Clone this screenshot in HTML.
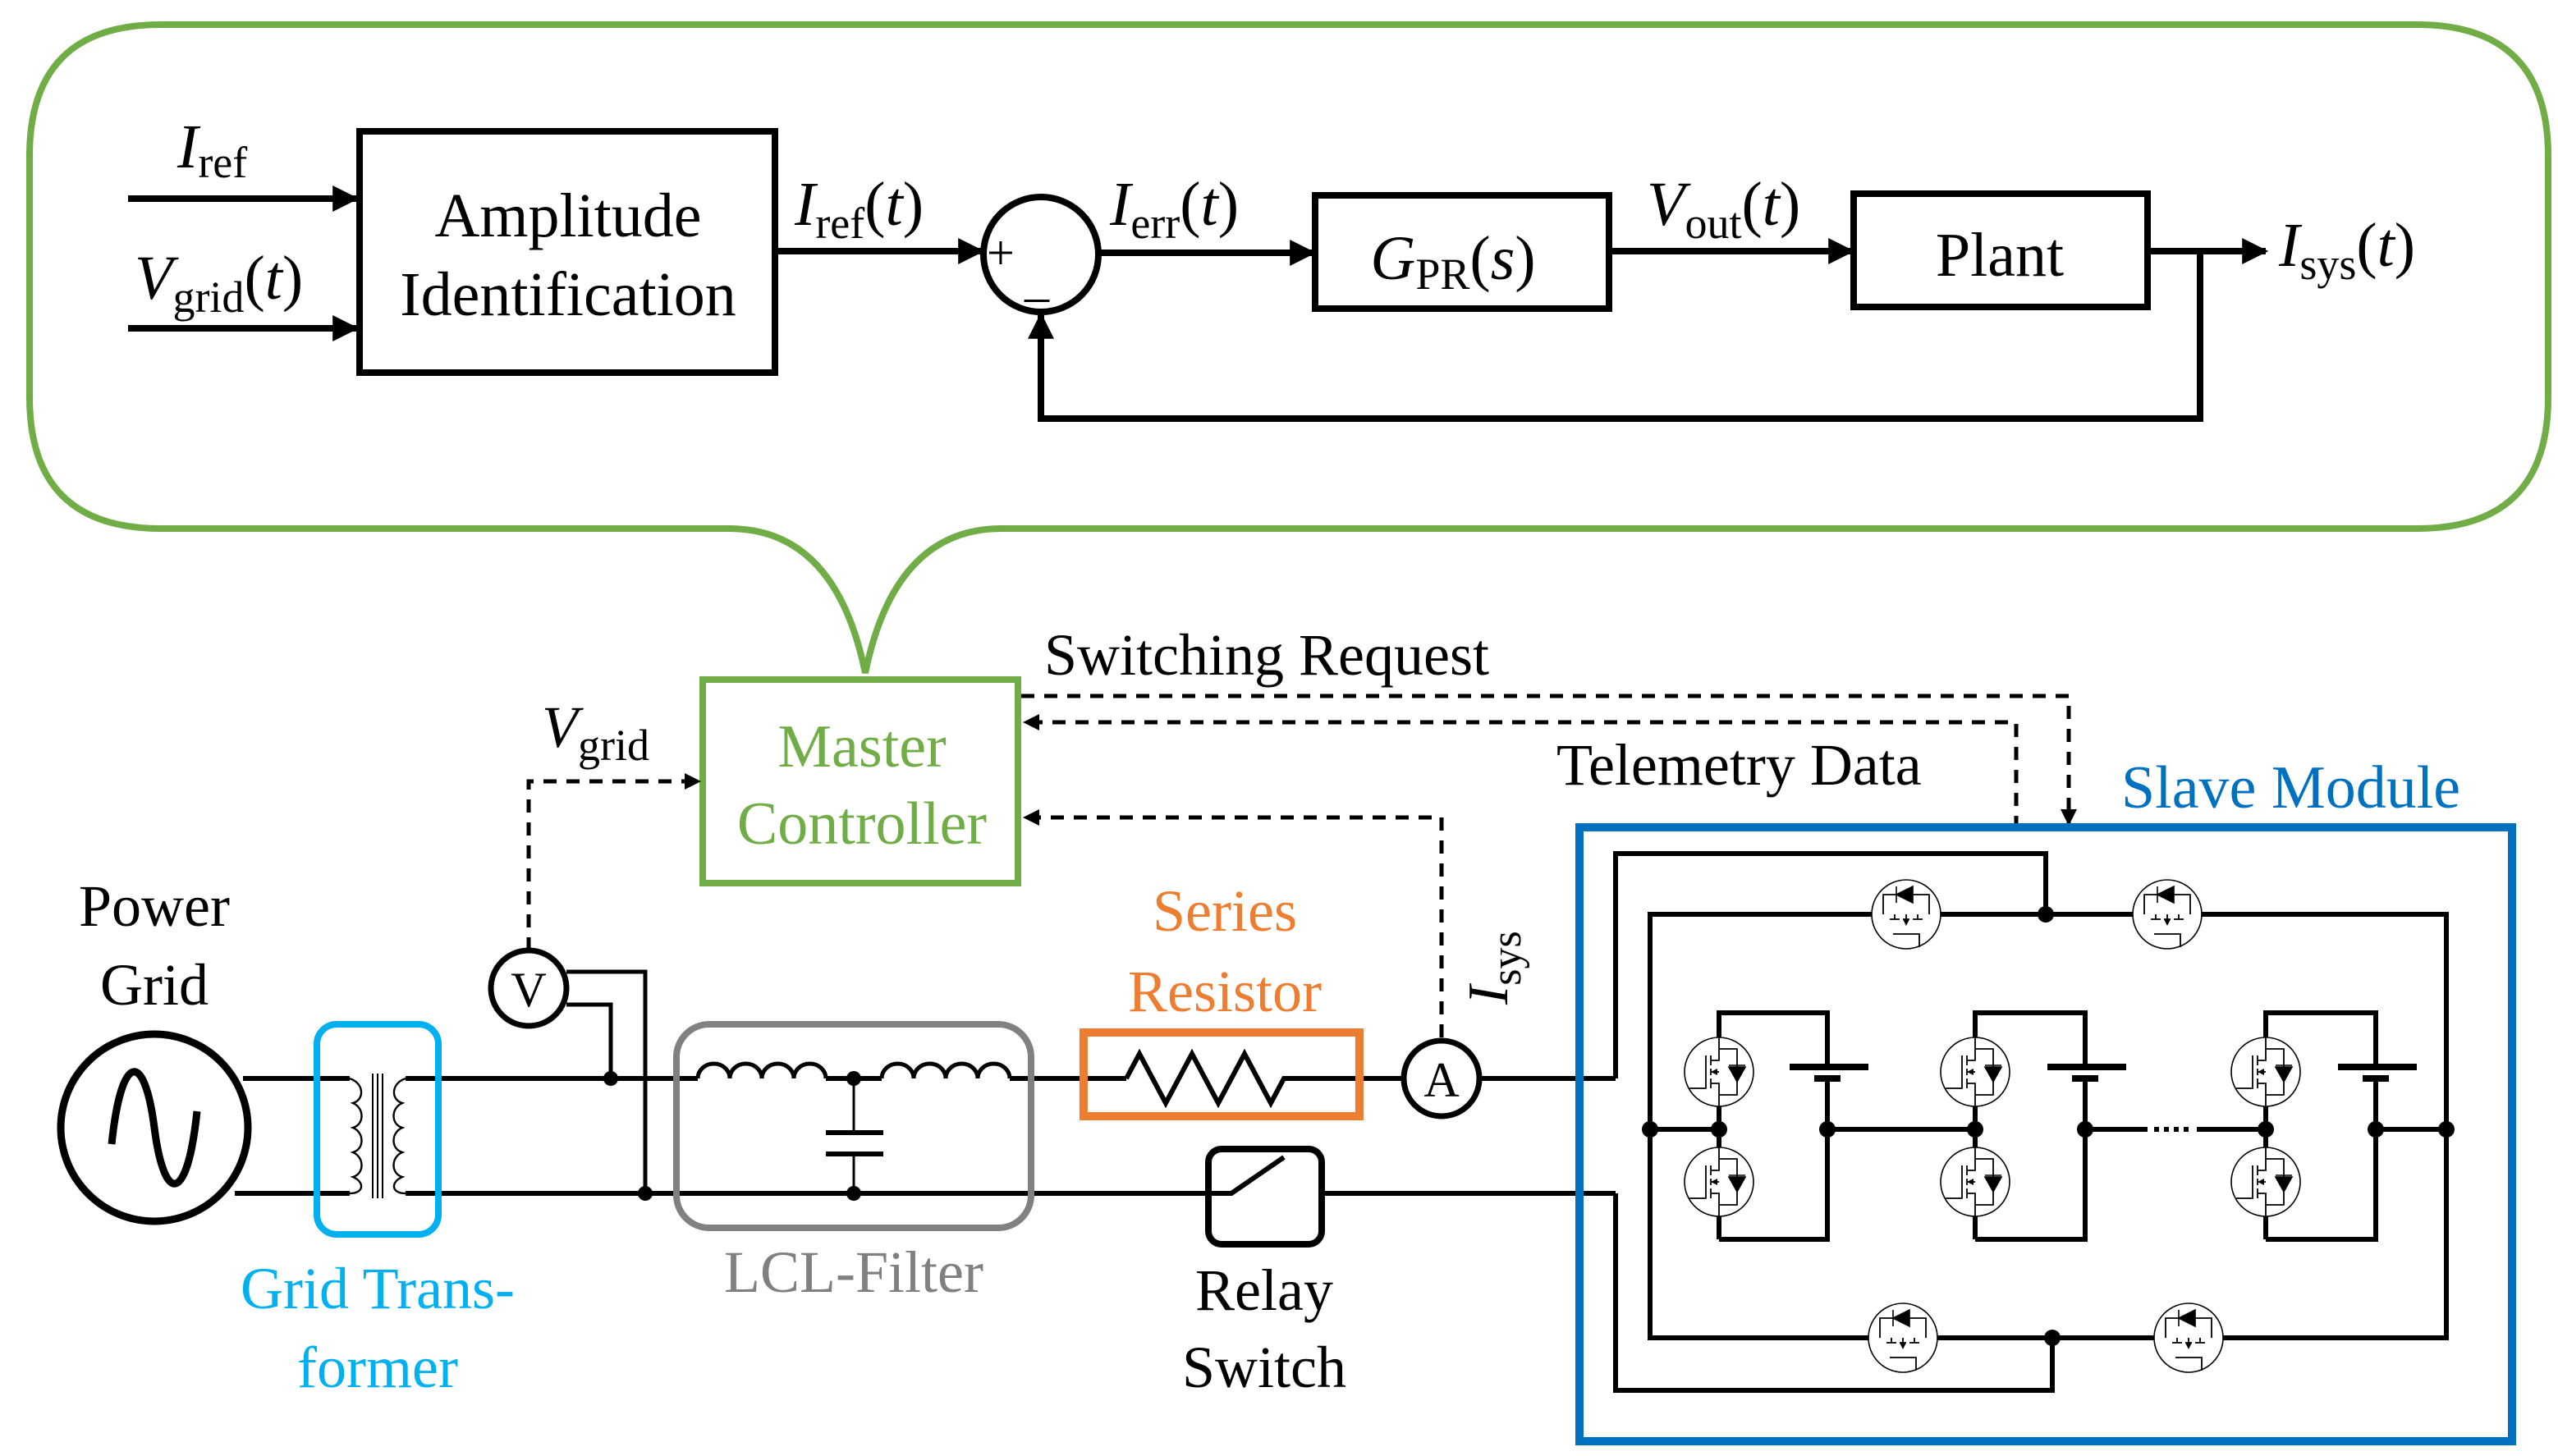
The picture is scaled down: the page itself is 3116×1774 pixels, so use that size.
<!DOCTYPE html>
<html><head><meta charset="utf-8"><style>
html,body{margin:0;padding:0;background:#fff}
svg{display:block}
text{font-family:"Liberation Serif",serif}
</style></head><body>
<svg width="3116" height="1774" viewBox="0 0 1558 887" xmlns="http://www.w3.org/2000/svg">
<defs>
<marker id="arb" viewBox="0 0 10 10" refX="9" refY="5" markerWidth="20" markerHeight="16" orient="auto" markerUnits="userSpaceOnUse"><path d="M0,0 L10,5 L0,10 z"/></marker>
<marker id="ard" viewBox="0 0 10 10" refX="9" refY="5" markerWidth="11" markerHeight="10" orient="auto" markerUnits="userSpaceOnUse"><path d="M0,0 L10,5 L0,10 z"/></marker>
<g id="mh">
<ellipse cx="0" cy="0" rx="21" ry="21" fill="#fff" stroke="#000" stroke-width="0.8"/>
<path d="M-14,0 V-12 H14 V0 M-10,3 H-4 M-2,3 H2 M4,3 H10 M-7,3 V0 M7,3 V0 M0,3 V0 M-8,12 H8 V20" fill="none" stroke="#000" stroke-width="0.9"/>
<path d="M-6,-12 L4,-17 L4,-7 z M-6,-17 V-7"  stroke="#000" stroke-width="0.8"/>
<path d="M-2,3 L2,3 L0,7 z"/>
</g>
<g id="mv">
<ellipse cx="0" cy="0" rx="21" ry="21" fill="#fff" stroke="#000" stroke-width="0.8"/>
<path d="M0,-21 V-14 H11 V14 H0 V21 M-5,-10 V-4 M-5,-2 V2 M-5,4 V10 M-5,-7 H0 V-14 M-5,7 H0 V14 M-5,0 H0 M-8,-10 V10 H-18" fill="none" stroke="#000" stroke-width="0.9"/>
<path d="M11,6 L6,-3 L16,-3 z M6,-4 H16" stroke="#000" stroke-width="0.8"/>
<path d="M-5,0 L-1,-2 L-1,2 z"/>
</g>
</defs>

<path d="M98,15 H1472 Q1552,15 1552,95 V242 Q1552,322 1472,322 H610 Q545,322 527,410 Q509,322 444,322 H98 Q18,322 18,242 V95 Q18,15 98,15 Z" fill="none" stroke="#70ad47" stroke-width="4"/>

<g stroke="#000" stroke-width="4" fill="none">
<line x1="78" y1="121" x2="217" y2="121" marker-end="url(#arb)"/>
<line x1="78" y1="200" x2="217" y2="200" marker-end="url(#arb)"/>
<rect x="219" y="80" width="253" height="147"/>
<line x1="472" y1="153" x2="598" y2="153" marker-end="url(#arb)"/>
<circle cx="634" cy="155" r="35"/>
<line x1="670" y1="154" x2="800" y2="154" marker-end="url(#arb)"/>
<rect x="801" y="119" width="179" height="69"/>
<line x1="980" y1="153" x2="1128" y2="153" marker-end="url(#arb)"/>
<rect x="1129" y="118" width="179" height="69"/>
<line x1="1308" y1="153" x2="1380" y2="153" marker-end="url(#arb)"/>
<polyline points="1340,153 1340,255 634,255 634,192" marker-end="url(#arb)"/>
</g>
<g font-size="38" text-anchor="middle">
<text x="346" y="144">Amplitude</text>
<text x="346" y="192">Identification</text>
<text x="885" y="170" font-style="italic">G<tspan font-size="27" font-style="normal" dy="6">PR</tspan><tspan dy="-6" font-style="normal">(</tspan>s<tspan font-style="normal">)</tspan></text>
<text x="1218" y="168">Plant</text>
</g>
<g font-size="38">
<text x="108" y="102" font-style="italic">I<tspan font-size="27" font-style="normal" dy="6">ref</tspan></text>
<text x="82" y="182" font-style="italic">V<tspan font-size="27" font-style="normal" dy="8">grid</tspan><tspan dy="-8" font-style="normal">(</tspan>t<tspan font-style="normal">)</tspan></text>
<text x="484" y="137" font-style="italic">I<tspan font-size="27" font-style="normal" dy="8">ref</tspan><tspan dy="-8" font-style="normal">(</tspan>t<tspan font-style="normal">)</tspan></text>
<text x="676" y="137" font-style="italic">I<tspan font-size="27" font-style="normal" dy="8">err</tspan><tspan dy="-8" font-style="normal">(</tspan>t<tspan font-style="normal">)</tspan></text>
<text x="1003" y="137" font-style="italic">V<tspan font-size="27" font-style="normal" dy="8">out</tspan><tspan dy="-8" font-style="normal">(</tspan>t<tspan font-style="normal">)</tspan></text>
<text x="1388" y="162" font-style="italic">I<tspan font-size="27" font-style="normal" dy="8">sys</tspan><tspan dy="-8" font-style="normal">(</tspan>t<tspan font-style="normal">)</tspan></text>
<text x="601" y="164" font-size="30">+</text>
<text x="624" y="180" font-size="30">_</text>
</g>

<rect x="428" y="414" width="192" height="124" fill="none" stroke="#70ad47" stroke-width="4"/>
<g font-size="37" fill="#70ad47" text-anchor="middle">
<text x="525" y="467">Master</text>
<text x="525" y="514">Controller</text>
</g>
<g font-size="36">
<text x="636" y="411">Switching Request</text>
<text x="948" y="478">Telemetry Data</text>
<text x="1292" y="492" fill="#0070c0" font-size="37">Slave Module</text>
<text x="330" y="455" font-style="italic">V<tspan font-size="27" font-style="normal" dy="8">grid</tspan></text>
</g>
<text transform="translate(918,612) rotate(-90)" font-size="35" font-style="italic">I<tspan font-size="26" font-style="normal" dy="8">sys</tspan></text>

<g stroke="#000" stroke-width="2.5" fill="none" stroke-dasharray="8,6">
<polyline points="622,424 1260,424 1260,502" marker-end="url(#ard)"/>
<polyline points="1228,505 1228,440 624,440" marker-end="url(#ard)"/>
<polyline points="878,632 878,498 624,498" marker-end="url(#ard)"/>
<polyline points="322,579 322,476 426,476" marker-end="url(#ard)"/>
</g>

<g font-size="36" text-anchor="middle">
<text x="94" y="564">Power</text>
<text x="94" y="612">Grid</text>
<text x="230" y="797" fill="#00b0f0">Grid Trans-</text>
<text x="230" y="845" fill="#00b0f0">former</text>
<text x="520" y="787" fill="#808080">LCL-Filter</text>
<text x="746" y="567" fill="#ed7d31">Series</text>
<text x="746" y="616" fill="#ed7d31">Resistor</text>
<text x="770" y="798">Relay</text>
<text x="770" y="845">Switch</text>
</g>
<g stroke="#000" fill="none">
<circle cx="94" cy="687" r="57" stroke-width="4.5"/>
<path d="M68,697 C74,640 88,640 94,687 C100,734 114,734 120,677" stroke-width="4.5"/>
<line x1="148" y1="657" x2="213" y2="657" stroke-width="3"/>
<line x1="143" y1="727" x2="213" y2="727" stroke-width="3"/>
<path d="M213,657 C222,660 222,670 215,672 C222,675 222,685 215,687 C222,690 222,700 215,702 C222,705 222,715 215,717 C222,720 222,727 213,727" stroke-width="1.2"/>
<path d="M247,657 C238,660 238,670 245,672 C238,675 238,685 245,687 C238,690 238,700 245,702 C238,705 238,715 245,717 C238,720 238,727 247,727" stroke-width="1.2"/>
<line x1="227" y1="654" x2="227" y2="730" stroke-width="1"/>
<line x1="230" y1="654" x2="230" y2="730" stroke-width="1"/>
<line x1="233" y1="654" x2="233" y2="730" stroke-width="1"/>
<line x1="247" y1="657" x2="425" y2="657" stroke-width="3"/>
<line x1="247" y1="727" x2="738" y2="727" stroke-width="3"/>
<circle cx="322" cy="602" r="23" stroke-width="3.5"/>
<polyline points="345,592 393,592 393,727" stroke-width="2.5"/>
<polyline points="345,612 372,612 372,657" stroke-width="2.5"/>
<path d="M425,657 a9.75,9 0 0 1 19.5,0 a9.75,9 0 0 1 19.5,0 a9.75,9 0 0 1 19.5,0 a9.75,9 0 0 1 19.5,0" stroke-width="2.5"/>
<line x1="503" y1="657" x2="537" y2="657" stroke-width="3"/>
<path d="M537,657 a9.75,9 0 0 1 19.5,0 a9.75,9 0 0 1 19.5,0 a9.75,9 0 0 1 19.5,0 a9.75,9 0 0 1 19.5,0" stroke-width="2.5"/>
<line x1="615" y1="657" x2="686" y2="657" stroke-width="3"/>
<polyline points="520,657 520,690" stroke-width="1.5"/>
<line x1="503" y1="690" x2="538" y2="690" stroke-width="3"/>
<line x1="503" y1="703" x2="538" y2="703" stroke-width="3"/>
<polyline points="520,703 520,727" stroke-width="1.5"/>
<polyline points="686,657 694,642 710,672 726,642 742,672 758,642 774,672 782,657 855,657" stroke-width="3"/>
<circle cx="878" cy="657" r="23" stroke-width="3.5"/>
<line x1="901" y1="657" x2="984" y2="657" stroke-width="3"/>
<polyline points="805,727 984,727" stroke-width="3"/>
<polyline points="738,727 750,727 782,705" stroke-width="3"/>
</g>
<g>
<circle cx="372" cy="657" r="4.5"/><circle cx="393" cy="727" r="4.5"/>
<circle cx="520" cy="657" r="4.5"/><circle cx="520" cy="727" r="4.5"/>
</g>
<text x="322" y="613" font-size="30" text-anchor="middle">V</text>
<text x="878" y="668" font-size="30" text-anchor="middle">A</text>
<rect x="193" y="624" width="74" height="128" rx="12" fill="none" stroke="#00b0f0" stroke-width="4"/>
<rect x="412" y="624" width="216" height="124" rx="20" fill="none" stroke="#808080" stroke-width="4"/>
<rect x="660" y="629" width="168" height="51" fill="none" stroke="#ed7d31" stroke-width="5"/>
<rect x="736" y="700" width="69" height="58" rx="8" fill="none" stroke="#000" stroke-width="4"/>

<rect x="962" y="504" width="568" height="374" fill="none" stroke="#0070c0" stroke-width="5"/>
<g stroke="#000" stroke-width="3" fill="none">
<polyline points="984,657 984,520 1246,520 1246,557"/>
<polyline points="984,727 984,847 1250,847 1250,815"/>
<polyline points="1005,686 1005,557 1490,557 1490,686"/>
<polyline points="1005,686 1005,815 1490,815 1490,686"/>
<line x1="1005" y1="688" x2="1047" y2="688"/>
<line x1="1113" y1="688" x2="1203" y2="688"/>
<line x1="1270" y1="688" x2="1308" y2="688"/>
<line x1="1338" y1="688" x2="1380" y2="688"/>
<line x1="1447" y1="688" x2="1490" y2="688"/>
<line x1="1312" y1="688" x2="1334" y2="688" stroke-dasharray="3,3"/>
<polyline points="1047,755 1047,617 1113,617 1113,648"/>
<polyline points="1113,655 1113,755 1047,755"/>
<polyline points="1203,755 1203,617 1270,617 1270,648"/>
<polyline points="1270,655 1270,755 1203,755"/>
<polyline points="1380,755 1380,617 1447,617 1447,648"/>
<polyline points="1447,655 1447,755 1380,755"/>
</g>
<g fill="#000">
<rect x="1090" y="648" width="48" height="4"/><rect x="1105" y="655" width="16" height="4"/>
<rect x="1247" y="648" width="48" height="4"/><rect x="1262" y="655" width="16" height="4"/>
<rect x="1424" y="648" width="48" height="4"/><rect x="1439" y="655" width="16" height="4"/>
<circle cx="1246" cy="557" r="5"/><circle cx="1250" cy="815" r="5"/>
<circle cx="1005" cy="688" r="5"/><circle cx="1047" cy="688" r="5"/><circle cx="1113" cy="688" r="5"/>
<circle cx="1203" cy="688" r="5"/><circle cx="1270" cy="688" r="5"/><circle cx="1380" cy="688" r="5"/>
<circle cx="1447" cy="688" r="5"/><circle cx="1490" cy="688" r="5"/>
</g>
<use href="#mh" x="1161" y="557"/><use href="#mh" x="1320" y="557"/>
<use href="#mh" x="1159" y="815"/><use href="#mh" x="1333" y="815"/>
<use href="#mv" x="1047" y="653"/><use href="#mv" x="1047" y="720"/>
<use href="#mv" x="1203" y="653"/><use href="#mv" x="1203" y="720"/>
<use href="#mv" x="1380" y="653"/><use href="#mv" x="1380" y="720"/>
</svg>
</body></html>
